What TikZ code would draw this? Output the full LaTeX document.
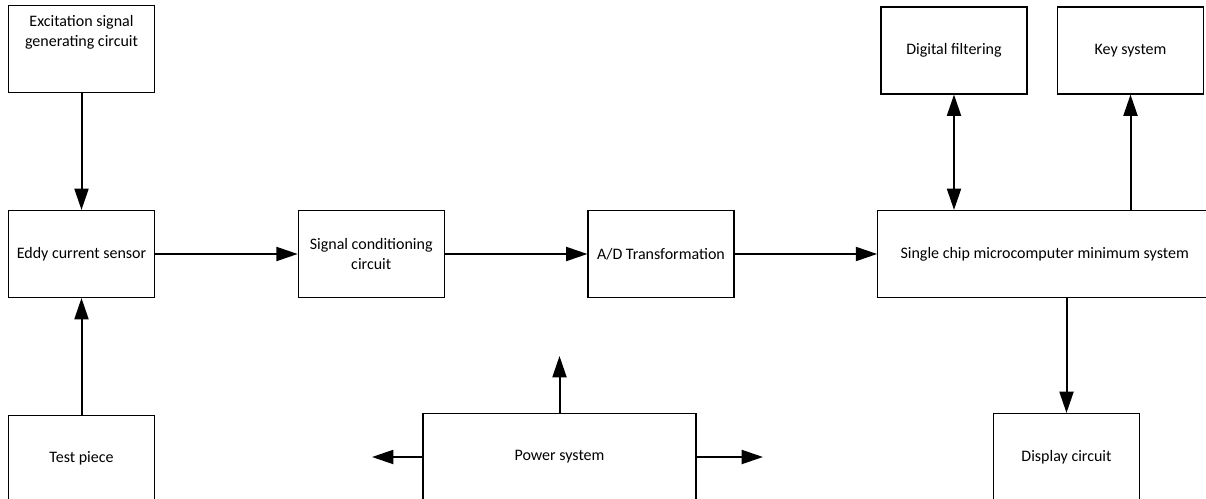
\documentclass[tikz,border=0pt]{standalone}
\usepackage{fontspec}
\setmainfont{Carlito}
\usetikzlibrary{arrows.meta, positioning}

\begin{document}
\begin{tikzpicture}[
    x=0.75pt, y=-0.75pt,
    node distance=87.4pt and 107pt,
    block/.style={rectangle, minimum width=109.5pt, minimum height=65.25pt, text centered, align=center, draw=black, line width=0.8pt, font=\fontsize{12}{15}\selectfont},
    arrow/.style={line width=1.5pt, -{Triangle[length=16pt, width=10.5pt]}},
    darrow/.style={line width=1.5pt, {Triangle[length=16pt, width=10.5pt]}-{Triangle[length=16pt, width=10.5pt]}}
]
\useasboundingbox (0,0) rectangle (1206,499);

\node (eddy) [block] at (81.5,254) {Eddy current sensor};
\node (excite) [block, above=of eddy, label={[anchor=north, align=center, yshift=-4pt, font=\fontsize{12}{15}\selectfont]north:Excitation signal\\generating circuit}] {};
\node (test) [block, below=of eddy] {Test piece};
\node (cond) [block, right=of eddy] {Signal conditioning\\circuit};
\node (ad) [block, right=of cond] {A/D Transformation};
\node (mcu) [block, right=of ad, minimum width=250.5pt] {Single chip microcomputer minimum system};
\node (filt) [block] at (954,50.5) {Digital filtering};
\node (key) [block] at (1130.5,50.5) {Key system};
\node (power) [block, minimum width=204.75pt] at (559.5,457) {Power system};
\node (disp) [block] at (1066.5,457) {Display circuit};

\coordinate (pup) at (559.5,356);
\coordinate (pleft) at (372,457);
\coordinate (pright) at (763,457);

\draw [arrow] (excite) -- (eddy);
\draw [arrow] (test) -- (eddy);
\draw [arrow] (eddy) -- (cond);
\draw [arrow] (cond) -- (ad);
\draw [arrow] (ad) -- (mcu);
\draw [darrow] (filt.south) -- (filt.south |- mcu.north);
\draw [arrow] (key.south |- mcu.north) -- (key.south);
\draw [arrow] (disp.north |- mcu.south) -- (disp.north);
\draw [arrow] (power.north) -- (pup);
\draw [arrow] (power.west) -- (pleft);
\draw [arrow] (power.east) -- (pright);

\end{tikzpicture}
\end{document}
